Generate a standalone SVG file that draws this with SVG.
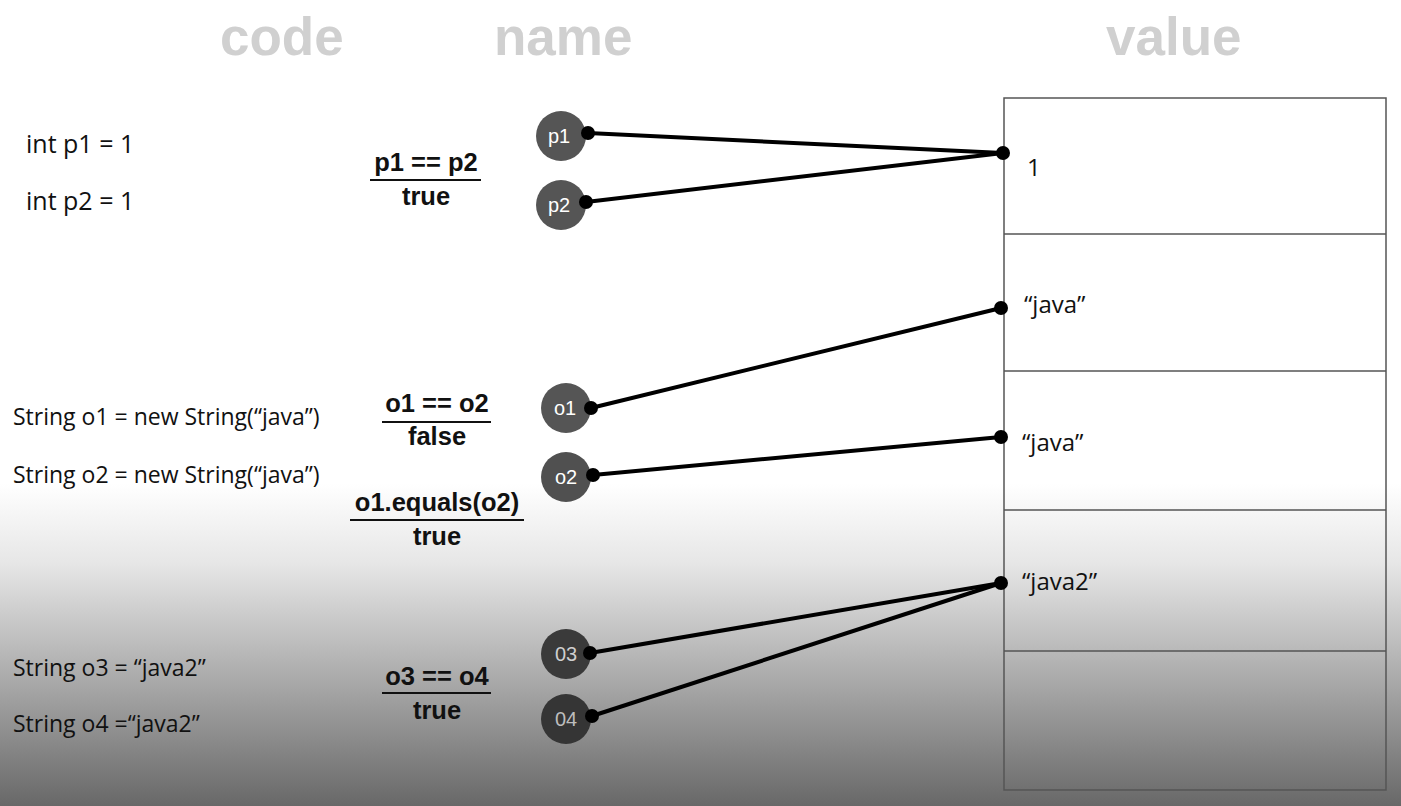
<svg xmlns="http://www.w3.org/2000/svg" width="1401" height="806" viewBox="0 0 1401 806">
<defs>
<linearGradient id="bg" x1="0" y1="0" x2="0" y2="806" gradientUnits="userSpaceOnUse">
<stop offset="0" stop-color="#ffffff"/>
<stop offset="0.6" stop-color="#ffffff"/>
<stop offset="0.7" stop-color="#e6e6e6"/>
<stop offset="1" stop-color="#686868"/>
</linearGradient>
<style>
.hdr{font-family:"Liberation Sans",Arial,sans-serif;font-weight:bold;font-size:53px;fill:#d0d0d0}
.code{font-family:"Open Sans","Noto Sans",sans-serif;font-size:23px;fill:#111}
.big{font-size:25px}
.val{font-family:"Open Sans","Noto Sans",sans-serif;font-size:24px;fill:#111}
.lbl{font-family:"Liberation Sans",Arial,sans-serif;font-weight:bold;font-size:25.5px;fill:#111;text-anchor:middle}
.bar{stroke:#111;stroke-width:2}
.cell{fill:none;stroke:#555;stroke-width:1.5}
.conn{stroke:#000;stroke-width:4;fill:none}
.dot{fill:#000}
.nt{font-family:"Liberation Sans",Arial,sans-serif;font-size:20px;text-anchor:middle}
</style>
</defs>
<rect x="0" y="0" width="1401" height="806" fill="url(#bg)"/>
<text class="hdr" x="220" y="55">code</text>
<text class="hdr" x="494" y="55">name</text>
<text class="hdr" x="1106" y="55">value</text>

<g id="memory">
<rect class="cell" x="1004" y="98" width="382" height="692"/>
<line class="cell" x1="1004" y1="234" x2="1386" y2="234"/>
<line class="cell" x1="1004" y1="371" x2="1386" y2="371"/>
<line class="cell" x1="1004" y1="510" x2="1386" y2="510"/>
<line class="cell" x1="1004" y1="651" x2="1386" y2="651"/>
<text class="val" x="1027" y="176">1</text>
<text class="val" x="1024" y="313">“java”</text>
<text class="val" x="1022" y="451">“java”</text>
<text class="val" x="1022" y="590">“java2”</text>
</g>

<g id="code">
<text class="code big" x="26" y="153">int p1 = 1</text>
<text class="code big" x="26" y="210">int p2 = 1</text>
<text class="code" x="13" y="425">String o1 = new String(“java”)</text>
<text class="code" x="13" y="483">String o2 = new String(“java”)</text>
<text class="code" x="13" y="676">String o3 = “java2”</text>
<text class="code" x="13" y="732">String o4 =“java2”</text>
</g>

<g id="labels">
<text class="lbl" x="426" y="171">p1 == p2</text>
<line class="bar" x1="370" y1="180" x2="481" y2="180"/>
<text class="lbl" x="426" y="205">true</text>
<text class="lbl" x="437" y="412">o1 == o2</text>
<line class="bar" x1="382" y1="422" x2="491" y2="422"/>
<text class="lbl" x="437" y="445">false</text>
<text class="lbl" x="437" y="511">o1.equals(o2)</text>
<line class="bar" x1="350" y1="520" x2="524" y2="520"/>
<text class="lbl" x="437" y="545">true</text>
<text class="lbl" x="437" y="685">o3 == o4</text>
<line class="bar" x1="382" y1="693" x2="491" y2="693"/>
<text class="lbl" x="437" y="719">true</text>
</g>

<g id="node-p1"><circle cx="561" cy="136" r="25" fill="#555"/><text class="nt" x="559" y="143" fill="#fff">p1</text></g>
<g id="node-p2"><circle cx="561" cy="205" r="25" fill="#555"/><text class="nt" x="559" y="212" fill="#fff">p2</text></g>
<g id="node-o1"><circle cx="566" cy="408" r="25" fill="#555"/><text class="nt" x="565" y="415" fill="#fff">o1</text></g>
<g id="node-o2"><circle cx="566" cy="477" r="25" fill="#505050"/><text class="nt" x="566" y="484" fill="#fff">o2</text></g>
<g id="node-o3"><circle cx="566" cy="654" r="25" fill="#3a3a3a"/><text class="nt" x="566" y="661" fill="#cfcfcf">03</text></g>
<g id="node-o4"><circle cx="566" cy="719" r="25" fill="#353535"/><text class="nt" x="566" y="726" fill="#bdbdbd">04</text></g>

<g id="connectors">
<line class="conn" x1="588" y1="133" x2="1003" y2="153"/>
<line class="conn" x1="586" y1="202" x2="1003" y2="153"/>
<line class="conn" x1="591" y1="408" x2="1001" y2="308"/>
<line class="conn" x1="593" y1="475" x2="1001" y2="437"/>
<line class="conn" x1="590" y1="653" x2="1001" y2="583"/>
<line class="conn" x1="592" y1="716" x2="1001" y2="583"/>
<circle class="dot" cx="588" cy="133" r="7"/>
<circle class="dot" cx="586" cy="202" r="7"/>
<circle class="dot" cx="1003" cy="153" r="7"/>
<circle class="dot" cx="591" cy="408" r="7"/>
<circle class="dot" cx="1001" cy="308" r="7"/>
<circle class="dot" cx="593" cy="475" r="7"/>
<circle class="dot" cx="1001" cy="437" r="7"/>
<circle class="dot" cx="590" cy="653" r="7"/>
<circle class="dot" cx="592" cy="716" r="7"/>
<circle class="dot" cx="1001" cy="583" r="7"/>
</g>
</svg>
